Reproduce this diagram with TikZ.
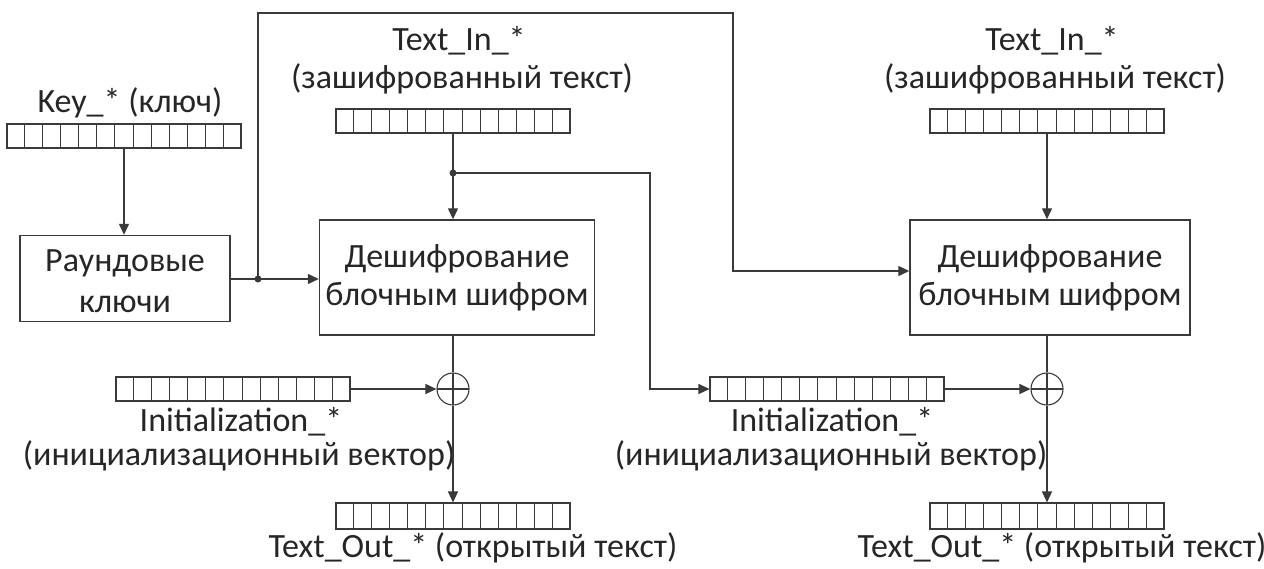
\documentclass[tikz,border=0pt]{standalone}
\usepackage{fontspec}
\setmainfont{Carlito}
\usetikzlibrary{arrows.meta,calc}
\definecolor{ln}{HTML}{3A3A3A}
\newcommand{\regcells}[1]{\foreach \i in {1,...,12}{\draw[ln,line width=1pt] ($(#1.south west)!\i/13!(#1.south east)$) -- ($(#1.north west)!\i/13!(#1.north east)$);}}
\begin{document}
\begin{tikzpicture}[x=1pt,y=-1pt,
  every node/.style={font=\fontsize{34}{40}\selectfont, text=black!85},
  reg/.style={draw=ln,line width=1.1pt,minimum width=234pt,minimum height=24pt,inner sep=0pt},
  blk/.style={draw=ln,line width=1.4pt,inner sep=0pt},
  lbl/.style={inner sep=0pt,anchor=base},
  xorn/.style={draw=ln,line width=1.1pt,circle,minimum size=32pt,inner sep=0pt,
     path picture={\draw[ln,line width=1.1pt] (path picture bounding box.north) -- (path picture bounding box.south) (path picture bounding box.west) -- (path picture bounding box.east);}},
  arr/.style={draw=ln,line width=1.3pt,-{Triangle[length=11pt,width=10pt]}},
  ln/.style={draw=ln,line width=1.3pt},
  dot/.style={circle,fill=ln,inner sep=0pt,minimum size=7pt}]
\path[use as bounding box,fill=white] (0,0) rectangle (1264,568);
% key
\node[lbl] (keylbl) at (130,112) {Key\_* (ключ)};
\node[reg] (keyreg) at (124,136) {};
\regcells{keyreg}
\node[blk,minimum width=210pt,minimum height=86pt] (rk) at (125,278.5) {};
\node[lbl] (rkt1) at (125,271) {Раундовые};
\node[lbl] (rkt2) at (125,312) {ключи};
% left decrypt
\node[lbl] (tin1a) at (459,50) {Text\_In\_*};
\node[lbl] (tin1b) at (462,88) {(зашифрованный текст)};
\node[reg] (tin1) at (453,121) {};
\regcells{tin1}
\node[blk,minimum width=275pt,minimum height=115pt] (dec1) at (457,277.5) {};
\node[lbl] (dec1t1) at (457,267) {Дешифрование};
\node[lbl] (dec1t2) at (457,305) {блочным шифром};
\node[xorn] (xor1) at (453,389) {};
\node[reg] (iv1) at (233,389) {};
\regcells{iv1}
\node[lbl] (iv1a) at (241,431) {Initialization\_*};
\node[lbl] (iv1b) at (239,465) {(инициализационный вектор)};
\node[reg,minimum height=26pt] (tout1) at (453,516) {};
\regcells{tout1}
\node[lbl] (tout1a) at (473,557) {Text\_Out\_* (открытый текст)};
% right decrypt
\node[lbl] (tin2a) at (1052,50) {Text\_In\_*};
\node[lbl] (tin2b) at (1055,88) {(зашифрованный текст)};
\node[reg] (tin2) at (1047,121) {};
\regcells{tin2}
\node[blk,minimum width=280pt,minimum height=115pt] (dec2) at (1050,277.5) {};
\node[lbl] (dec2t1) at (1050,267) {Дешифрование};
\node[lbl] (dec2t2) at (1050,305) {блочным шифром};
\node[xorn] (xor2) at (1047,389) {};
\node[reg] (iv2) at (827,389) {};
\regcells{iv2}
\node[lbl] (iv2a) at (832,431) {Initialization\_*};
\node[lbl] (iv2b) at (831,465) {(инициализационный вектор)};
\node[reg,minimum height=26pt] (tout2) at (1047,516) {};
\regcells{tout2}
\node[lbl] (tout2a) at (1062,557) {Text\_Out\_* (открытый текст)};
% junctions
\coordinate (j1) at (258,279);
\coordinate (c1) at (258,13);
\coordinate (c2) at (733,13);
\coordinate (c3) at (733,271);
\coordinate (j2) at (453,173);
\coordinate (c4) at (650,173);
\coordinate (c5) at (650,389);
% connectors
\draw[arr] (keyreg.south) -- (keyreg.south |- rk.north);
\draw[ln] (rk.east |- j1) -- (j1);
\draw[arr] (j1) -- (j1 -| dec1.west);
\draw[arr] (j1) -- (c1) -- (c2) -- (c3) -- (c3 -| dec2.west);
\draw[arr] (tin1.south) -- (tin1.south |- dec1.north);
\draw[arr] (j2) -- (c4) -- (c5) -- (iv2.west);
\draw[arr] (iv1.east) -- (xor1.west);
\draw[ln] (xor1.north |- dec1.south) -- (xor1.north);
\draw[arr] (xor1.south) -- (tout1.north);
\draw[arr] (tin2.south) -- (tin2.south |- dec2.north);
\draw[arr] (iv2.east) -- (xor2.west);
\draw[ln] (xor2.north |- dec2.south) -- (xor2.north);
\draw[arr] (xor2.south) -- (tout2.north);
\node[dot] (d1) at (j1) {};
\node[dot] (d2) at (j2) {};
\end{tikzpicture}
\end{document}
